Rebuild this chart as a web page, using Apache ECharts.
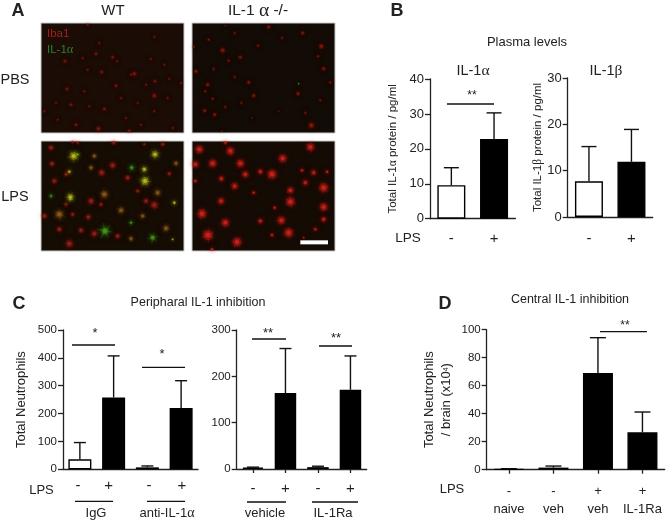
<!DOCTYPE html>
<html><head><meta charset="utf-8">
<style>html,body{margin:0;padding:0;background:#fff}#c{width:666px;height:521px}</style>
<script src="https://cdn.jsdelivr.net/npm/echarts@6/dist/echarts.min.js"></script>
</head><body><div id="c"></div>
<script>
// ---- data: bar charts
const lpsTwo = ['-', '+'];
const il1aMean = [9.6, 22.8];
const il1aErr = [14.6, 30.3];
const il1bMean = [7.7, 11.9];
const il1bErr = [15.2, 18.9];
const periphLeftCats = ['IgG -', 'IgG +', 'anti -', 'anti +'];
const periphLeftMean = [36, 258, 7, 220];
const periphLeftErr = [96, 407, 12, 318];
const periphRightCats = ['-', '+', '-', '+'];
const periphRightMean = [3, 164, 4, 171];
const periphRightErr = [4, 260, 6, 244];
const centralCats = ['-\nnaive', '-\nveh', '+\nveh', '+\nIL-1Ra'];
const centralMean = [0.5, 1.5, 69, 26.7];
const centralErr = [0.7, 2.6, 94.3, 41.2];
// ---- data: microscopy spots, in image units [x, y, size]
const wtPbsRed = [[140,5,3],[340,42,3],[175,60,3],[165,92,4],[72,115,4],[125,105,3],[215,103,4],[228,115,3],[140,140,3],[182,147,4],[280,152,5],[270,155,3],[225,188,4],[78,198,4],[315,185,3],[342,175,4],[385,168,3],[420,180,3],[340,218,5],[130,205,3],[45,240,3],[90,245,4],[240,225,3],[290,240,3],[145,250,3],[190,258,4],[340,265,3],[255,285,3],[50,290,3],[105,305,4],[172,317,5],[265,323,4],[395,315,3],[300,305,3],[10,265,3],[380,225,3],[330,108,3],[370,125,3]];
const koPbsRed = [[230,12,4],[270,45,3],[332,30,4],[100,8,2],[128,30,3],[50,50,3],[5,72,3],[92,82,5],[388,70,5],[378,100,3],[145,103,4],[110,113,3],[198,68,3],[12,145,4],[65,138,3],[395,137,4],[128,162,3],[170,178,4],[47,185,4],[40,205,3],[415,178,3],[185,218,4],[318,212,4],[62,227,3],[148,240,3],[100,252,3],[38,263,4],[68,275,4],[385,232,3],[260,265,2],[340,270,3],[358,307,6],[180,285,2],[90,325,2]];
const koPbsGreen = [[320,182,1.5]];
const wtLpsRed = [[30,20,5],[95,3,3],[218,5,4],[365,10,4],[33,68,5],[215,73,6],[182,95,6],[260,110,5],[385,98,4],[290,150,4],[150,180,6],[315,180,5],[340,192,7],[10,225,5],[95,220,4],[142,228,5],[180,190,4],[120,268,5],[160,278,6],[85,308,7],[230,285,5],[55,265,5],[75,190,4],[40,120,5],[75,100,4],[310,10,3],[110,5,3]];
const wtLpsOrange = [[55,220,7],[240,208,5],[190,160,6],[375,262,5],[160,45,4],[150,80,4],[405,67,4],[350,155,5],[305,225,4],[270,293,4]];
const wtLpsYellow = [[98,45,6],[342,40,5],[312,120,6],[310,85,4],[85,92,3],[88,168,5],[400,185,3],[395,295,2]];
const wtLpsGreen = [[192,270,7],[335,290,5],[272,80,4],[30,165,3],[88,175,3],[270,245,3],[110,40,3]];
const koLpsRed = [[22,25,6],[115,30,6],[100,5,3],[355,18,6],[272,52,6],[62,67,6],[145,67,6],[10,70,5],[240,100,7],[160,100,5],[205,92,4],[365,95,4],[405,92,3],[330,88,3],[88,113,4],[128,135,5],[340,125,4],[395,140,7],[295,148,5],[185,155,3],[87,180,5],[295,182,7],[248,200,3],[395,198,6],[30,218,7],[100,245,6],[268,238,6],[205,240,4],[395,235,4],[48,282,8],[290,275,7],[135,303,7],[370,265,3],[240,282,3],[10,120,3],[335,290,2],[60,325,3]];
const scaleBar = [[325,304],[408,304]];

const FONT = '"Liberation Sans", Arial, sans-serif';
const INK = '#222';
const ARMS = 'path://M50 0 L55 42 L88 18 L61 50 L100 68 L56 58 L62 100 L47 60 L12 92 L40 50 L0 28 L44 41 Z';
const chart = echarts.init(document.getElementById('c'), null, {renderer:'canvas'});

const grids = [], xAxes = [], yAxes = [], series = [];

function photo(left, top, bg, groups, extra) {
  const i = grids.length;
  grids.push({left, top, width:143, height:110, show:true, backgroundColor:bg, borderColor:'#c8c8c8', borderWidth:1});
  xAxes.push({gridIndex:i, type:'value', min:0, max:429, show:false});
  yAxes.push({gridIndex:i, type:'value', min:0, max:330, inverse:true, show:false});
  groups.forEach(g => {
    series.push({type:'scatter', xAxisIndex:i, yAxisIndex:i, data:g.data, silent:true, symbol:ARMS,
      symbolSize:d => d[2] * g.arm, symbolRotate:d => d[0] % 60,
      itemStyle:{color:g.color, opacity:g.armOp, shadowBlur:5, shadowColor:g.color}});
    series.push({type:'scatter', xAxisIndex:i, yAxisIndex:i, data:g.data, silent:true,
      symbolSize:d => d[2] * g.k * 2,
      itemStyle:{color:g.color, opacity:g.op * .3, shadowBlur:6, shadowColor:g.color}});
    series.push({type:'scatter', xAxisIndex:i, yAxisIndex:i, data:g.data, silent:true,
      symbolSize:d => d[2] * g.k,
      itemStyle:{color:g.color, opacity:g.op, shadowBlur:g.blur, shadowColor:g.color}});
  });
  if (extra) series.push(extra(i));
}
photo(41, 23, '#1b0c06', [{data:wtPbsRed, color:'#8c1a12', k:.5, op:.7, blur:3, arm:1.7, armOp:.2}]);
photo(192, 23, '#130b05', [{data:koPbsRed, color:'#96180f', k:.55, op:.75, blur:3, arm:1.5, armOp:.2},
  {data:koPbsGreen, color:'#2f9a2a', k:.8, op:.8, blur:1, arm:.5, armOp:.1}]);
photo(41, 141, '#150c04', [
  {data:wtLpsRed, color:'#a01e18', k:.55, op:.8, blur:3, arm:2, armOp:.22},
  {data:wtLpsOrange, color:'#8e5a18', k:.6, op:.8, blur:3, arm:2.2, armOp:.28},
  {data:wtLpsGreen, color:'#3f9c1a', k:.55, op:.9, blur:3, arm:2.6, armOp:.35},
  {data:wtLpsYellow, color:'#b4b820', k:.65, op:.95, blur:4, arm:2.4, armOp:.28}
]);
photo(192, 141, '#140b05', [{data:koLpsRed, color:'#cc1f18', k:.65, op:.9, blur:4, arm:2, armOp:.32}], i => ({
  type:'line', xAxisIndex:i, yAxisIndex:i, data:scaleBar, symbol:'none', silent:true,
  lineStyle:{color:'#fff', width:4, cap:'butt'}
}));

function barChart(o) {
  const i = grids.length;
  grids.push({left:o.left, top:o.top, width:o.width, height:o.height});
  xAxes.push({gridIndex:i, type:'category', data:o.cats,
    axisLine:{lineStyle:{color:INK, width:1.3}},
    axisTick:{show:!!o.ticks, alignWithLabel:true, length:4, lineStyle:{color:INK, width:1.3}},
    axisLabel:{show:!o.noLabels, color:INK, fontFamily:FONT, fontSize:o.catSize||15, margin:o.catMargin||11, lineHeight:o.catLH||undefined, interval:0}
  });
  yAxes.push({gridIndex:i, type:'value', min:0, max:o.max, interval:o.step,
    name:o.name, nameLocation:'middle', nameRotate:90, nameGap:o.nameGap, nameMoveOverlap:false,
    nameTextStyle:{color:INK, fontFamily:FONT, fontSize:o.nameSize, lineHeight:o.nameLH||undefined,
      rich:{g:{fontFamily:'"Liberation Serif", serif', fontSize:o.nameSize, color:INK},
            s:{fontFamily:FONT, fontSize:7, color:INK, verticalAlign:'bottom', padding:[0,0,5,0]}}},
    splitLine:{show:false},
    axisLine:{show:true, lineStyle:{color:INK, width:1.3}},
    axisTick:{show:true, length:5, lineStyle:{color:INK, width:1.3}},
    axisLabel:{color:INK, fontFamily:FONT, fontSize:o.tickSize, margin:6}
  });
  series.push({type:'bar', xAxisIndex:i, yAxisIndex:i, barWidth:o.barWidth, silent:true,
    data:o.mean.map((v,k)=>({value:v, itemStyle:{color:o.white && o.white.includes(k) ? '#fff' : '#000', borderColor:'#000', borderWidth:1.4}}))
  });
  series.push({type:'custom', xAxisIndex:i, yAxisIndex:i, silent:true, z:1,
    data:o.err.map((e,k)=>[k,o.mean[k],e]),
    encode:{x:0,y:[1,2]},
    renderItem:(p,api)=>{
      const a = api.coord([api.value(0),api.value(1)]), b = api.coord([api.value(0),api.value(2)]);
      const cw = o.cap/2, st = {stroke:'#111', lineWidth:1.4, fill:'none'};
      return {type:'group', children:[
        {type:'line', shape:{x1:a[0],y1:a[1],x2:b[0],y2:b[1]}, style:st},
        {type:'line', shape:{x1:a[0]-cw,y1:b[1],x2:a[0]+cw,y2:b[1]}, style:st}
      ]};
    }
  });
}
const nameB1 = 'Total IL-1{g|α} protein / pg/ml', nameB2 = 'Total IL-1{g|β} protein / pg/ml';
barChart({left:430, top:79, width:85.4, height:139.7, cats:lpsTwo, mean:il1aMean, err:il1aErr, white:[0], max:40, step:10, barWidth:28, cap:15, name:nameB1, nameGap:31, nameSize:11.5, tickSize:13, catMargin:13});
barChart({left:567.7, top:78, width:85, height:139, cats:lpsTwo, mean:il1bMean, err:il1bErr, white:[0], max:30, step:10, barWidth:28, cap:15, name:nameB2, nameGap:24, nameSize:11.5, tickSize:13, catMargin:14});
barChart({left:63, top:330, width:135, height:139.3, cats:periphLeftCats, noLabels:true, mean:periphLeftMean, err:periphLeftErr, white:[0], max:500, step:100, barWidth:23, cap:12, name:'Total Neutrophils', nameGap:35, nameSize:13, tickSize:11.5});
barChart({left:236.7, top:330, width:130, height:139, cats:periphRightCats, ticks:true, mean:periphRightMean, err:periphRightErr, max:300, step:100, barWidth:21.5, cap:12, tickSize:11.5, nameSize:12, nameGap:30, catMargin:12});
barChart({left:486.7, top:329.7, width:178, height:140, cats:centralCats, ticks:true, mean:centralMean, err:centralErr, max:100, step:20, barWidth:30, cap:16, name:'Total Neutrophils\n/ brain (x10{s|4})', nameGap:32, nameSize:13, nameLH:17, tickSize:11.5, catSize:13, catMargin:13, catLH:18});

// ---- text and annotation layers
function txt(text, x, y, size, extra) {
  extra = extra || {};
  return {type:'text', x, y, silent:true, rotation:extra.rot||0, z:100,
    style:{text, fontFamily:FONT, fontSize:size, fontWeight:extra.bold?'bold':'normal', fill:extra.fill||INK, align:extra.align||'center', verticalAlign:'middle',
      rich:{g:{fontFamily:'"Liberation Serif", serif', fontSize:size+(extra.gUp||1), fill:extra.fill||INK}}}};
}
function rule(x1,x2,y){return {type:'line', silent:true, z:100, shape:{x1,y1:y,x2,y2:y}, style:{stroke:'#111', lineWidth:1.3}};}
const graphic = [
  txt('A',18,11,18,{bold:true}), txt('B',397,11,18,{bold:true}), txt('C',19,304,18,{bold:true}), txt('D',445,304,18,{bold:true}),
  txt('WT',113,11,15), txt('IL-1 {g|α} -/-',258,11,15.5,{gUp:4}),
  txt('PBS',15,80,14.5), txt('LPS',15,197,14.5),
  txt('Iba1',47,34,11.5,{align:'left',fill:'#a81e18'}), txt('IL-1{g|α}',47,50,11.5,{align:'left',fill:'#2f7f2f'}),
  txt('Plasma levels',527,42,13),
  txt('IL-1{g|α}',473,71,14.5), txt('IL-1{g|β}',606,71,14.5),
  txt('LPS',408,238,13.5),
  rule(447,494,104), txt('**',472,96,12),
  txt('Peripharal IL-1 inhibition',198,303,12.5),
  txt('*',95,333,13), rule(72,115,345), txt('*',162,354,13), rule(142,185,367.3),
  txt('**',268,333,13), rule(252,286,339), txt('**',336,338,13), rule(319,352,346),
  txt('LPS',41.5,490,13),
  txt(lpsTwo[0],78,486,15), txt(lpsTwo[1],108.7,486,15), txt(lpsTwo[0],149,486,15), txt(lpsTwo[1],182,486,15),
  rule(75,113,501.3), rule(147,185,501.3), rule(247,286,502), rule(312,358,502),
  txt('IgG',96,513,13), txt('anti-IL-1{g|α}',167,513,13), txt('vehicle',265,513.5,13), txt('IL-1Ra',333,513.5,13),
  txt('Central IL-1 inhibition',570,300,12.5),
  rule(600,647,331.7), txt('**',625,326,12),
  txt('LPS',452,489,13)
];

chart.setOption({animation:false, backgroundColor:'#fff', grid:grids, xAxis:xAxes, yAxis:yAxes, series, graphic});
</script></body></html>
